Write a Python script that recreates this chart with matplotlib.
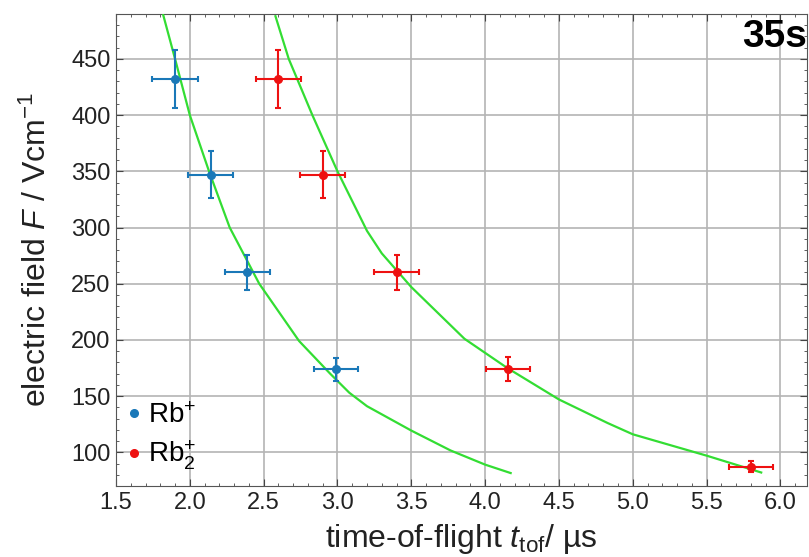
import matplotlib
matplotlib.use("Agg")
import matplotlib.pyplot as plt
from matplotlib.ticker import MultipleLocator

plt.rcParams['font.family'] = ['Liberation Sans', 'DejaVu Sans']
plt.rcParams['mathtext.fontset'] = 'custom'
plt.rcParams['mathtext.rm'] = 'Liberation Sans'
plt.rcParams['mathtext.it'] = 'Liberation Sans:italic'
plt.rcParams['mathtext.bf'] = 'Liberation Sans:bold'

# measured points
rb_t = [1.90, 2.14, 2.39, 2.99]
rb_f = [432, 347, 260, 174]
rb_terr = [0.155, 0.152, 0.15, 0.15]
rb_ferr = [26, 21, 15.5, 10.3]

rb2_t = [2.60, 2.90, 3.40, 4.155, 5.80]
rb2_f = [432, 347, 260, 174, 87]
rb2_terr = [0.152, 0.152, 0.15, 0.15, 0.15]
rb2_ferr = [26, 21, 15.5, 10.6, 5]

# fit curves
fit_rb_t = [1.82, 1.90, 2.00, 2.13, 2.27, 2.47, 2.74, 2.95, 3.08, 3.20, 3.50, 3.766, 4.00, 4.173]
fit_rb_f = [489, 450, 400, 350, 300, 250, 199, 170, 153, 141, 119.3, 101.6, 89, 81.5]
fit_rb2_t = [2.58, 2.67, 2.83, 3.00, 3.20, 3.30, 3.50, 3.86, 4.15, 4.50, 4.83, 5.00, 5.50, 5.87]
fit_rb2_f = [488, 450, 400, 350, 297, 277, 247, 201, 175, 147, 126, 116, 97, 82]

blue = '#1a78b8'
red = '#ee1111'
green = '#33dd33'

fig = plt.figure(figsize=(8.09, 5.57), dpi=100)
ax = fig.add_axes([0.1434, 0.1275, 0.8541, 0.8474])

ax.plot(fit_rb_t, fit_rb_f, color=green, lw=1.6, zorder=3)
ax.plot(fit_rb2_t, fit_rb2_f, color=green, lw=1.6, zorder=3)

ax.errorbar(rb_t, rb_f, xerr=rb_terr, yerr=rb_ferr, fmt='o', color=blue,
            ms=5.5, elinewidth=1.5, capsize=2.4, capthick=1.5, zorder=4)
ax.errorbar(rb2_t, rb2_f, xerr=rb2_terr, yerr=rb2_ferr, fmt='o', color=red,
            ms=5.5, elinewidth=1.5, capsize=2.4, capthick=1.5, zorder=4)

ax.set_xlim(1.5, 6.18)
ax.set_ylim(70, 490)
ax.xaxis.set_minor_locator(MultipleLocator(0.1))
ax.yaxis.set_minor_locator(MultipleLocator(10))
ax.set_xticks([1.5, 2.0, 2.5, 3.0, 3.5, 4.0, 4.5, 5.0, 5.5, 6.0])
ax.set_xticklabels(['1.5', '2.0', '2.5', '3.0', '3.5', '4.0', '4.5', '5.0', '5.5', '6.0'])
ax.set_yticks([100, 150, 200, 250, 300, 350, 400, 450])
ax.tick_params(which='both', direction='in', top=True, right=True, color='#444444')
ax.tick_params(which='major', length=5, labelsize=17, labelcolor='#222222', pad=4)
ax.tick_params(which='minor', length=2.5)
ax.grid(True, which='major', color='#b4b4b4', lw=1.2)
ax.set_axisbelow(True)
for s in ax.spines.values():
    s.set_color('#555555')

ax.set_xlabel(r'time-of-flight $t_{\mathrm{tof}}$/ µs', fontsize=23, color='#222222', labelpad=6)
ax.set_ylabel(r'electric field $F$ / Vcm$^{-1}$', fontsize=23, color='#222222', labelpad=13)

ax.plot([], [], 'o', color=blue, ms=5.5, label=r'Rb$^{+}$')
ax.plot([], [], 'o', color=red, ms=5.5, label=r'Rb$_{2}^{+}$')
handles, labels = ax.get_legend_handles_labels()
ax.legend(handles[-2:], labels[-2:], loc='lower left', frameon=False, fontsize=20,
          handlelength=0.3, handletextpad=0.35, borderaxespad=0.1, labelspacing=0.35,
          borderpad=0.4)

ax.text(0.9995, 0.99, '35s', transform=ax.transAxes, ha='right', va='top',
        fontsize=28, fontweight='bold', color='black', zorder=6)

fig.savefig('out.png', dpi=100)
